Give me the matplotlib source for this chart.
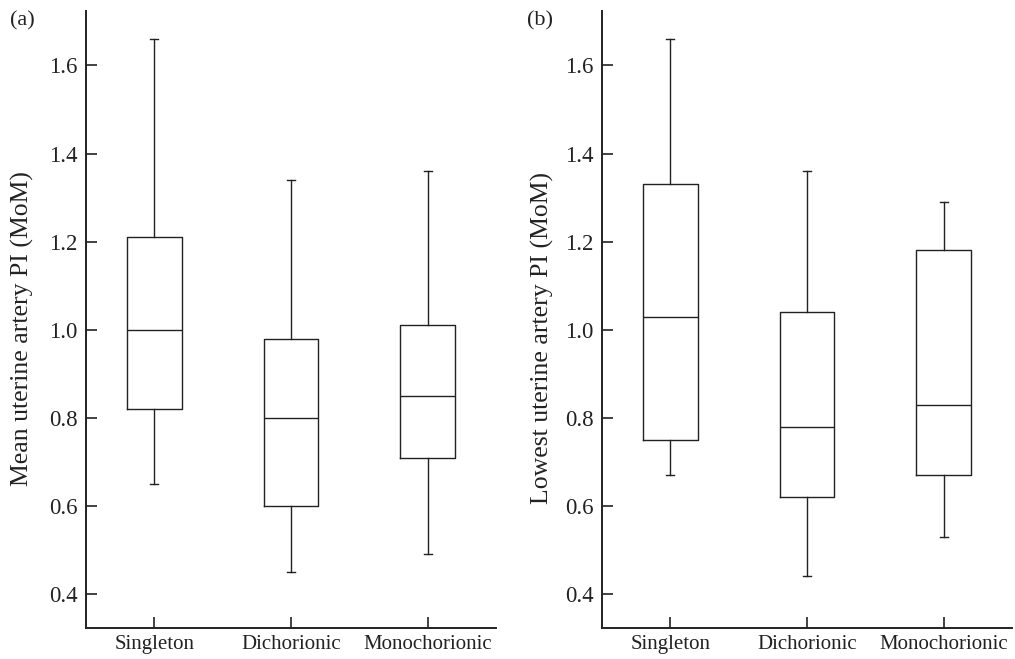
import matplotlib.pyplot as plt

plt.rcParams['font.family'] = ['Liberation Serif', 'DejaVu Serif']

groups = ['Singleton', 'Dichorionic', 'Monochorionic']

# panel (a): mean uterine artery PI
mean_low = [0.65, 0.45, 0.49]
mean_q1 = [0.82, 0.60, 0.71]
mean_med = [1.00, 0.80, 0.85]
mean_q3 = [1.21, 0.98, 1.01]
mean_high = [1.66, 1.34, 1.36]

# panel (b): lowest uterine artery PI
low_low = [0.67, 0.44, 0.53]
low_q1 = [0.75, 0.62, 0.67]
low_med = [1.03, 0.78, 0.83]
low_q3 = [1.33, 1.04, 1.18]
low_high = [1.66, 1.36, 1.29]

yticks = [0.4, 0.6, 0.8, 1.0, 1.2, 1.4, 1.6]


def make_stats(lo, q1, med, q3, hi):
    stats = []
    for i in range(len(groups)):
        stats.append({'label': groups[i], 'whislo': lo[i], 'q1': q1[i],
                      'med': med[i], 'q3': q3[i], 'whishi': hi[i], 'fliers': []})
    return stats


def draw_panel(ax, stats, ylabel, label_x, label_y):
    ink = '#222222'
    ax.bxp(stats, positions=[1, 2, 3], widths=0.4, showfliers=False,
           boxprops=dict(color=ink, linewidth=1.0),
           medianprops=dict(color=ink, linewidth=1.0),
           whiskerprops=dict(color=ink, linewidth=1.0),
           capprops=dict(color=ink, linewidth=1.0), capwidths=0.06)
    ax.set_xlim(0.5, 3.5)
    ax.set_ylim(0.323, 1.723)
    ax.set_yticks(yticks)
    ax.set_yticklabels([f'{v:.1f}' for v in yticks])
    ax.set_xticks([1, 2, 3])
    ax.set_xticklabels(groups, fontsize=15)
    ax.spines['top'].set_visible(False)
    ax.spines['right'].set_visible(False)
    for s in ['left', 'bottom']:
        ax.spines[s].set_linewidth(1.4)
        ax.spines[s].set_color(ink)
    ax.tick_params(direction='in', length=8, width=1.2, color=ink,
                   labelcolor=ink)
    ax.tick_params(axis='y', labelsize=16.5, pad=6)
    ax.tick_params(axis='x', pad=5)
    ax.set_ylabel(ylabel, fontsize=18.5, color=ink)
    ax.yaxis.set_label_coords(label_x, label_y)


fig = plt.figure(figsize=(10.15, 6.59), dpi=100)
ax1 = fig.add_axes([0.0847, 0.047, 0.404, 0.936])
ax2 = fig.add_axes([0.593, 0.047, 0.404, 0.936])

draw_panel(ax1, make_stats(mean_low, mean_q1, mean_med, mean_q3, mean_high),
           'Mean uterine artery PI (MoM)', -0.126, 0.486)
draw_panel(ax2, make_stats(low_low, low_q1, low_med, low_q3, low_high),
           'Lowest uterine artery PI (MoM)', -0.116, 0.47)

fig.text(10 / 1015, 1 - 21 / 659, '(a)', fontsize=16, color='#222222', va='center')
fig.text(527 / 1015, 1 - 21 / 659, '(b)', fontsize=16, color='#222222', va='center')

plt.savefig('out.png', dpi=100)
plt.close()
